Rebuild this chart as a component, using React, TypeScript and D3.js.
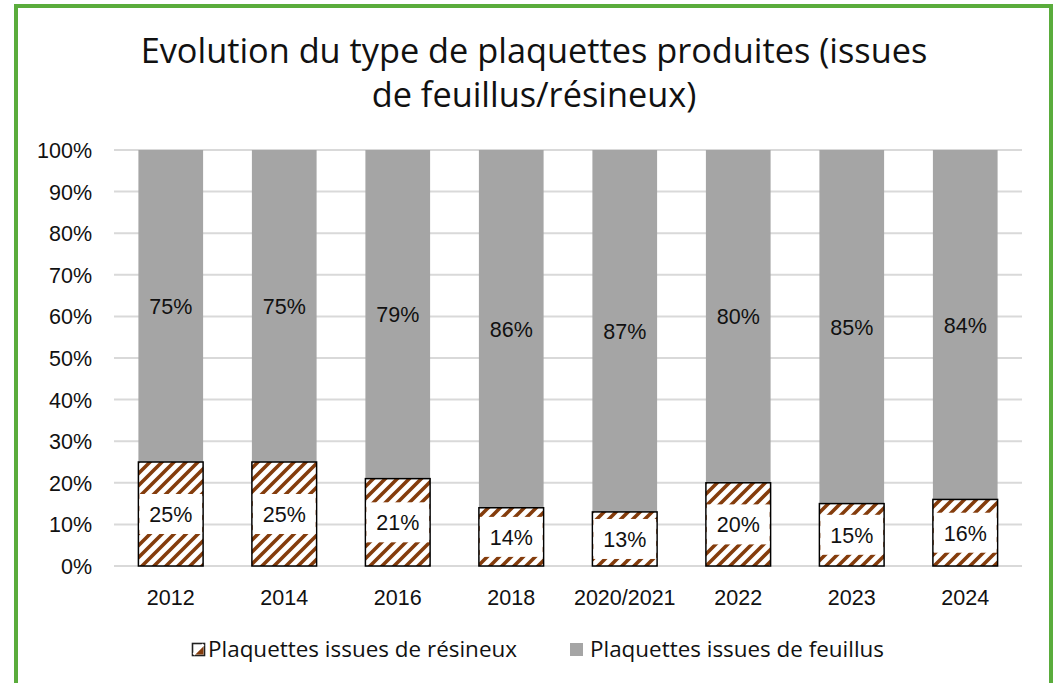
import React from "react";
import * as d3 from "d3";

const years = ["2012", "2014", "2016", "2018", "2020/2021", "2022", "2023", "2024"];
const resineux = [25, 25, 21, 14, 13, 20, 15, 16];
const feuillus = [75, 75, 79, 86, 87, 80, 85, 84];
const yTicks = [0, 10, 20, 30, 40, 50, 60, 70, 80, 90, 100];
const titleLines = ["Evolution du type de plaquettes produites (issues", "de feuillus/résineux)"];
const seriesNames = ["Plaquettes issues de résineux", "Plaquettes issues de feuillus"];

const W = 1056;
const H = 683;
const BROWN = "#843c0c";
const GREY = "#a5a5a5";
const GREEN = "#5aac3c";
const axisFont = "'Liberation Sans', Arial, sans-serif";
const titleFont = "'Open Sans', 'Noto Sans', sans-serif";

const App = () => {
    const x = d3.scaleBand().domain(years).range([114, 1022]).paddingInner(0.43).paddingOuter(0.215);
    const y = d3.scaleLinear().domain([0, 100]).range([566, 150]);
    const bw = x.bandwidth();

    return (
        <svg width={W} height={H} style={{ position: "absolute", left: 0, top: 0 }}>
            <defs>
                <pattern id="hatch" patternUnits="userSpaceOnUse" width="12" height="12">
                    <rect width="12" height="12" fill="white" />
                    <path d="M-3,3 L3,-3 M0,12 L12,0 M9,15 L15,9" stroke={BROWN} strokeWidth="3.6" />
                </pattern>
            </defs>
            <rect width={W} height={H} fill="white" />
            <path d={`M16,${H} V6 H1051 V${H}`} fill="none" stroke={GREEN} strokeWidth="4" />

            {titleLines.map((t, i) => (
                <text key={i} x={534} y={63 + i * 44} textAnchor="middle" fontFamily={titleFont} fontSize="34.3" fill="#111">
                    {t}
                </text>
            ))}

            {yTicks.map(t => (
                <g key={t}>
                    <line x1={114} x2={1022} y1={y(t)} y2={y(t)} stroke="#d9d9d9" strokeWidth="2" />
                    <text x={92} y={y(t) + 8} textAnchor="end" fontFamily={axisFont} fontSize="21.5" fill="#111">
                        {t}%
                    </text>
                </g>
            ))}

            {years.map((yr, i) => {
                const x0 = x(yr) as number;
                const r = resineux[i];
                const f = feuillus[i];
                const top = y(r);
                const mid = (y(0) + top) / 2;
                const boxH = Math.min(40, y(0) - top - 6);
                return (
                    <g key={yr}>
                        <rect x={x0} y={y(r + f)} width={bw} height={y(r) - y(r + f)} fill={GREY} />
                        <rect x={x0} y={top} width={bw} height={y(0) - top} fill="url(#hatch)" stroke="black" strokeWidth="1.5" />
                        <rect x={x0 + 1} y={mid - boxH / 2} width={bw - 2} height={boxH} fill="white" />
                        <text x={x0 + bw / 2} y={mid + 8} textAnchor="middle" fontFamily={axisFont} fontSize="21.5" fill="#111">
                            {r}%
                        </text>
                        <text x={x0 + bw / 2} y={(y(r) + y(r + f)) / 2 + 8} textAnchor="middle" fontFamily={axisFont} fontSize="21.5" fill="#111">
                            {f}%
                        </text>
                        <text x={x0 + bw / 2} y={605} textAnchor="middle" fontFamily={axisFont} fontSize="21.5" fill="#111">
                            {yr}
                        </text>
                    </g>
                );
            })}

            <g>
                <rect x={192.5} y={643.5} width={12} height={12} fill="white" stroke="#222" strokeWidth="1.6" />
                <path d="M193.5,654.5 L203.5,644.5 L203.5,654.5 Z" fill={BROWN} />
                <path d="M193.5,654.5 L203.5,644.5" stroke="white" strokeWidth="2.5" />
                <text x={208} y={657} fontFamily={titleFont} fontSize="21" fill="#111" textLength={309} lengthAdjust="spacingAndGlyphs">
                    {seriesNames[0]}
                </text>
                <rect x={570} y={643} width={13} height={13} fill={GREY} />
                <text x={590} y={657} fontFamily={titleFont} fontSize="21" fill="#111" textLength={294} lengthAdjust="spacingAndGlyphs">
                    {seriesNames[1]}
                </text>
            </g>
        </svg>
    );
};

export default App;
